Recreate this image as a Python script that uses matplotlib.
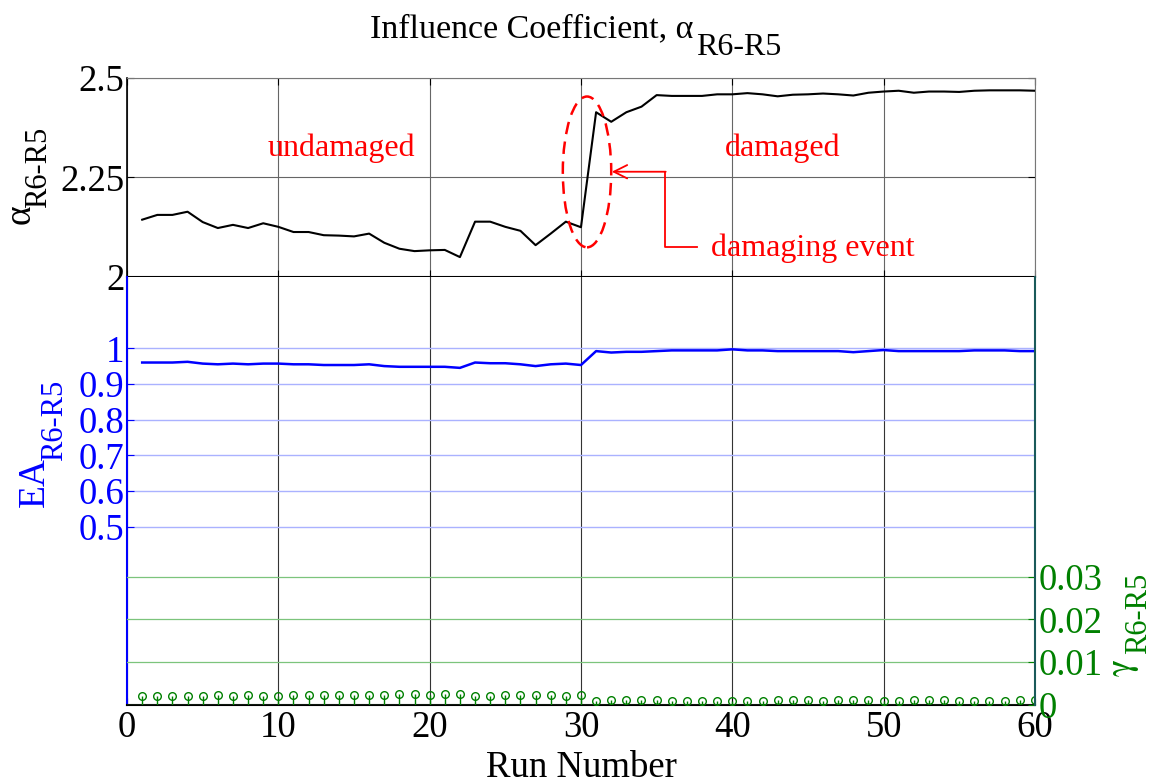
import matplotlib
matplotlib.use("Agg")
import matplotlib.pyplot as plt
from matplotlib.patches import Ellipse
import numpy as np

plt.rcParams["font.family"] = ["Liberation Serif", "DejaVu Serif"]

BLUE = "#0000FF"
GREEN = "#008000"
RED = "#FF0000"

# ── data ──────────────────────────────────────────────────────────────────────
runs = np.arange(1, 61)

alpha = [2.144, 2.156, 2.156, 2.164, 2.138, 2.123, 2.131, 2.123, 2.135, 2.126,
         2.113, 2.113, 2.105, 2.104, 2.102, 2.109, 2.086, 2.071, 2.065, 2.067,
         2.068, 2.050, 2.139, 2.139, 2.126, 2.116, 2.080, 2.109, 2.139, 2.125,
         2.414, 2.390, 2.414, 2.428, 2.457, 2.455, 2.455, 2.455, 2.459, 2.459,
         2.462, 2.459, 2.454, 2.458, 2.459, 2.461, 2.459, 2.456, 2.463, 2.466,
         2.468, 2.463, 2.466, 2.466, 2.465, 2.468, 2.469, 2.469, 2.469, 2.468]

ea = [0.960, 0.960, 0.960, 0.962, 0.957, 0.955, 0.957, 0.955, 0.957, 0.957,
      0.955, 0.955, 0.953, 0.953, 0.953, 0.955, 0.950, 0.948, 0.948, 0.948,
      0.948, 0.945, 0.960, 0.958, 0.958, 0.955, 0.950, 0.955, 0.957, 0.953,
      0.992, 0.988, 0.990, 0.990, 0.992, 0.994, 0.994, 0.994, 0.994, 0.997,
      0.994, 0.994, 0.992, 0.992, 0.992, 0.992, 0.992, 0.989, 0.992, 0.995,
      0.992, 0.992, 0.992, 0.992, 0.992, 0.994, 0.994, 0.994, 0.992, 0.992]

gamma = [0.0022, 0.0022, 0.0022, 0.0022, 0.0022, 0.0024, 0.0022, 0.0024, 0.0022, 0.0022,
         0.0024, 0.0024, 0.0023, 0.0024, 0.0024, 0.0023, 0.0024, 0.0026, 0.0026, 0.0024,
         0.0026, 0.0026, 0.0022, 0.0022, 0.0024, 0.0024, 0.0024, 0.0024, 0.0022, 0.0023,
         0.0010, 0.0012, 0.0012, 0.0012, 0.0011, 0.0009, 0.0009, 0.0010, 0.0009, 0.0010,
         0.0010, 0.0010, 0.0012, 0.0012, 0.0012, 0.0010, 0.0012, 0.0012, 0.0012, 0.0010,
         0.0010, 0.0012, 0.0012, 0.0012, 0.0010, 0.0010, 0.0010, 0.0010, 0.0012, 0.0012]

x_ticks = [0, 10, 20, 30, 40, 50, 60]
alpha_ticks = [2, 2.25, 2.5]
ea_ticks = [0.5, 0.6, 0.7, 0.8, 0.9, 1.0]
gamma_ticks = [0, 0.01, 0.02, 0.03]

FS = 26.5
W_PX, H_PX = 1155, 784

fig = plt.figure(figsize=(W_PX / 100, H_PX / 100), dpi=100)
fig.patch.set_facecolor("white")


def fx(px):
    return px / W_PX


def fy(py):
    return 1 - py / H_PX


def vlabel(xc, yc, s, size, color, family=None):
    # rotated label piece centred on a pixel position
    fig.text(fx(xc), fy(yc), s, fontsize=size, color=color, rotation=90,
             ha="center", va="center", family=family)


L, W = 0.110, 0.786
ax_top = fig.add_axes([L, 0.6467, W, 0.2538])
ax_bot = fig.add_axes([L, 0.1008, W, 0.546])
ax_g = ax_bot.twinx()

# ── top panel: influence coefficient ──────────────────────────────────────────
ax_top.plot(runs, alpha, color="black", lw=1.5, zorder=3)
ax_top.set_xlim(0, 60)
ax_top.set_ylim(2, 2.5)
ax_top.set_xticks(x_ticks)
ax_top.set_xticklabels([])
ax_top.set_yticks(alpha_ticks)
ax_top.set_yticklabels(["2", "2.25", "2.5"], fontsize=FS)
ax_top.tick_params(direction="in", length=5, top=True, right=True, pad=2)
ax_top.grid(True, color="#666666", lw=0.8)
for s in ["top", "right"]:
    ax_top.spines[s].set_color("#777777")
ax_top.spines["left"].set_linewidth(1.2)
ax_top.spines["bottom"].set_linewidth(1.5)

ax_top.text(14.2, 2.324, "undamaged", color=RED, fontsize=23, ha="center", va="center")
ax_top.text(43.3, 2.324, "damaged", color=RED, fontsize=23, ha="center", va="center")
ax_top.text(45.3, 2.073, "damaging event", color=RED, fontsize=23, ha="center", va="center")

ax_top.add_patch(Ellipse((30.4, 2.264), 3.2, 0.379, fill=False, ec=RED,
                         ls=(0, (5, 3)), lw=1.8, zorder=4))
ax_top.plot([37.7, 35.56, 35.56], [2.0753, 2.0753, 2.2645], color=RED, lw=1.3, zorder=4)
ax_top.annotate("", xy=(32.04, 2.2645), xytext=(35.6, 2.2645),
                arrowprops=dict(arrowstyle="->", color=RED, lw=1.3,
                                mutation_scale=24, shrinkA=0, shrinkB=0),
                zorder=4)

# ── bottom panel: EA (left) and gamma (right) ─────────────────────────────────
ax_bot.plot(runs, ea, color=BLUE, lw=1.8, zorder=3)
ax_bot.set_xlim(0, 60)
ax_bot.set_ylim(0, 1.2)
ax_bot.set_xticks(x_ticks)
ax_bot.set_xticklabels([str(t) for t in x_ticks], fontsize=FS)
ax_bot.set_yticks(ea_ticks)
ax_bot.set_yticklabels(["0.5", "0.6", "0.7", "0.8", "0.9", "1"], fontsize=FS, color=BLUE)
ax_bot.tick_params(axis="y", direction="in", length=5, colors=BLUE, labelcolor=BLUE, pad=2)
ax_bot.tick_params(axis="x", direction="in", length=5, pad=4)
ax_bot.grid(True, axis="x", color="#333333", lw=0.8)
ax_bot.grid(True, axis="y", color="#AAB2FF", lw=1.0)
ax_bot.spines["left"].set_color(BLUE)
ax_bot.spines["left"].set_linewidth(1.5)
ax_bot.spines["right"].set_visible(False)
ax_bot.spines["top"].set_visible(False)
ax_bot.spines["bottom"].set_linewidth(1.5)
ax_bot.set_xlabel("Run Number", fontsize=FS, labelpad=4)

markers, stems, base = ax_g.stem(runs, gamma, linefmt="-", markerfmt="o", basefmt=" ")
stems.set_color(GREEN)
stems.set_linewidth(1.0)
markers.set_markerfacecolor("none")
markers.set_markeredgecolor(GREEN)
markers.set_markersize(5.5)
markers.set_markeredgewidth(1.0)
ax_g.set_ylim(0, 0.1)
ax_g.set_yticks(gamma_ticks)
ax_g.set_yticklabels(["0", "0.01", "0.02", "0.03"], fontsize=FS, color=GREEN)
ax_g.tick_params(axis="y", direction="in", length=5, colors=GREEN, labelcolor=GREEN, pad=3)
ax_g.grid(True, axis="y", color="#7CC47C", lw=0.9)
for s in ["left", "top", "bottom"]:
    ax_g.spines[s].set_visible(False)
ax_g.spines["right"].set_color("#1A5A5A")
ax_g.spines["right"].set_linewidth(1.5)

# ── axis labels with full-size subscripts ─────────────────────────────────────
vlabel(20, 214, "α", 27, "black")
vlabel(39, 167, "R6-R5", 22, "black")
vlabel(35, 482, "EA", 27, BLUE)
vlabel(55, 420, "R6-R5", 22, BLUE)
vlabel(1122, 667, "γ", 26, GREEN, family="STIXGeneral")
vlabel(1139, 613, "R6-R5", 22, GREEN)

# ── title ─────────────────────────────────────────────────────────────────────
t_main = fig.text(fx(370), fy(37), "Influence Coefficient, α", fontsize=24.5,
                  ha="left", va="baseline")
fig.canvas.draw()
bb = t_main.get_window_extent()
fig.text(bb.x1 / W_PX + 0.002, fy(55), "R6-R5", fontsize=23, ha="left", va="baseline")

fig.savefig("out.png", dpi=100, facecolor="white")
